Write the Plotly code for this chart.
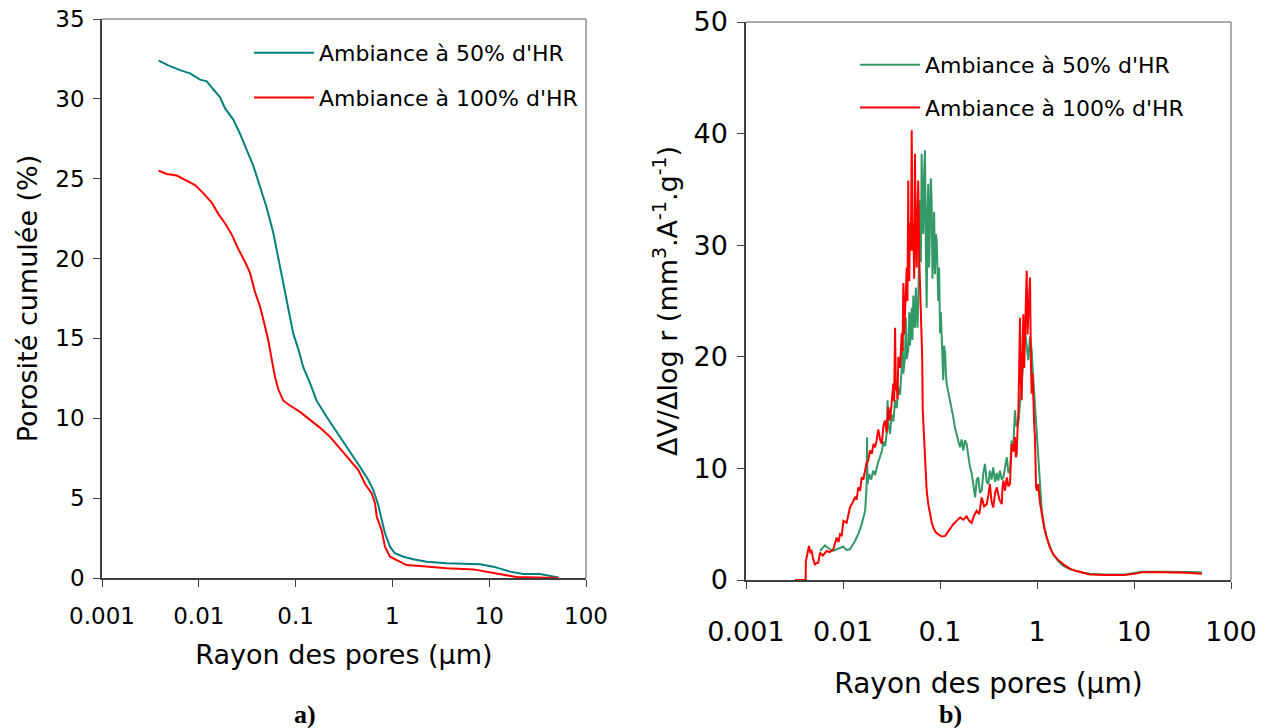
import plotly.graph_objects as go

# ---- a) cumulative porosity vs pore radius ----
r_cum_50 = [0.00385, 0.00484, 0.0064, 0.00813, 0.0103, 0.0121, 0.0141, 0.0166, 0.0187, 0.0227,
            0.0267, 0.0313, 0.0366, 0.0429, 0.0502, 0.0589, 0.069, 0.0776, 0.0875, 0.0946,
            0.107, 0.12, 0.141, 0.165, 0.209, 0.288, 0.365, 0.462, 0.564, 0.635,
            0.714, 0.774, 0.838, 0.944, 1.06, 1.30, 1.64, 2.26, 3.64, 8.04,
            11.0, 16.4, 22.5, 33.5, 51.8]
p_cum_50 = [32.4, 32.1, 31.8, 31.6, 31.2, 31.1, 30.6, 30.1, 29.4, 28.7,
            27.8, 26.8, 25.8, 24.5, 23.2, 21.6, 19.5, 17.8, 16.2, 15.3,
            14.3, 13.2, 12.2, 11.1, 10.1, 8.85, 7.9, 6.97, 6.14, 5.5,
            4.57, 3.63, 2.8, 1.96, 1.55, 1.33, 1.17, 1.02, 0.92, 0.86,
            0.71, 0.4, 0.25, 0.25, 0.04]

r_cum_100 = [0.00385, 0.00468, 0.00592, 0.0075, 0.00914, 0.0111, 0.0136, 0.0159, 0.0187, 0.0219,
             0.0256, 0.03, 0.0338, 0.0381, 0.0429, 0.0463, 0.0522, 0.0566, 0.0612, 0.0664,
             0.0746, 0.0875, 0.111, 0.141, 0.179, 0.226, 0.288, 0.365, 0.445, 0.521,
             0.611, 0.661, 0.689, 0.774, 0.838, 0.944, 1.20, 1.40, 1.93, 3.64,
             6.85, 9.42, 12.9, 19.2, 51.8]
p_cum_100 = [25.5, 25.3, 25.2, 24.9, 24.6, 24.1, 23.5, 22.8, 22.2, 21.5,
             20.6, 19.8, 19.1, 17.9, 17.0, 16.2, 14.9, 13.7, 12.6, 11.8,
             11.1, 10.8, 10.4, 9.9, 9.4, 8.85, 8.1, 7.4, 6.76, 5.9,
             5.3, 4.68, 3.84, 3.0, 1.96, 1.33, 1.02, 0.81, 0.75, 0.61,
             0.54, 0.4, 0.25, 0.06, 0.0]

# ---- b) pore size distribution dV/dlog r ----
r_dist_50 = [
    0.00579, 0.00651, 0.0072, 0.00789, 0.0089, 0.01, 0.0109, 0.0118, 0.0133, 0.0145,
    0.0156, 0.0169, 0.0175, 0.0177, 0.0179, 0.0186, 0.0195, 0.0205, 0.0214, 0.0222,
    0.0231, 0.024, 0.0252, 0.0262, 0.0272, 0.0282, 0.0288, 0.0293, 0.0305, 0.0318,
    0.0331, 0.0344, 0.0358, 0.0372, 0.0387, 0.0403, 0.0411, 0.0419, 0.0436, 0.0445,
    0.0454, 0.0471, 0.0482, 0.0491, 0.0502, 0.0511, 0.052, 0.0531, 0.0542, 0.0552,
    0.0563, 0.0575, 0.0586, 0.0597, 0.061, 0.0622, 0.0635, 0.0647, 0.066, 0.0673,
    0.0686, 0.07, 0.0714, 0.0729, 0.0743, 0.0757, 0.0772, 0.0789, 0.0805, 0.082,
    0.0836, 0.0853, 0.087, 0.0887, 0.0906, 0.0925, 0.0942, 0.0959, 0.098, 0.1,
    0.102, 0.104, 0.106, 0.108, 0.11, 0.113, 0.115, 0.117, 0.122, 0.127,
    0.132, 0.137, 0.143, 0.149, 0.155, 0.161, 0.167, 0.174, 0.181, 0.188,
    0.196, 0.204, 0.212, 0.221, 0.23, 0.239, 0.248, 0.258, 0.269, 0.28,
    0.291, 0.303, 0.315, 0.327, 0.34, 0.354, 0.37, 0.385, 0.399, 0.415,
    0.433, 0.45, 0.468, 0.488, 0.507, 0.527, 0.548, 0.57, 0.593, 0.61,
    0.641, 0.668, 0.695, 0.723, 0.752, 0.783, 0.813, 0.847, 0.881, 0.916,
    0.953, 0.99, 1.03, 1.07, 1.12, 1.19, 1.26, 1.36, 1.47, 1.65,
    1.87, 2.2, 2.56, 3.0, 3.52, 5.0, 8.0, 10.0, 12.0, 20.0,
    35.0, 50.0]
v_dist_50 = [
    2.6, 3.1, 2.8, 2.6, 2.8, 3.0, 2.7, 2.75, 3.5, 4.2,
    5.0, 6.2, 8.3, 12.8, 8.6, 9.5, 9.0, 9.8, 9.4, 10.1,
    10.6, 11.0, 11.6, 12.4, 12.0, 13.1, 16.1, 14.0, 13.1, 14.8,
    14.2, 16.1, 15.4, 17.3, 16.6, 19.0, 22.1, 18.5, 20.0, 23.5,
    19.8, 20.6, 24.0, 21.0, 22.8, 24.4, 21.5, 25.5, 23.0, 22.6,
    26.2, 24.0, 22.6, 25.0, 30.0, 34.0, 28.5, 38.2, 32.0, 31.0,
    36.5, 38.5, 30.0, 24.4, 33.0, 35.5, 28.0, 31.0, 36.0, 34.0,
    27.0, 29.5, 33.0, 27.4, 31.0, 30.4, 26.0, 25.0, 28.0, 22.1,
    24.0, 21.4, 19.5, 17.9, 21.0, 20.3, 18.5, 17.6, 16.8, 16.1,
    15.2, 14.6, 13.6, 13.1, 12.4, 11.9, 12.6, 11.6, 12.5, 12.2,
    11.0, 10.1, 9.6, 8.6, 7.4, 9.0, 9.2, 7.8, 8.0, 9.6,
    10.4, 8.8, 8.6, 9.8, 9.0, 10.1, 8.8, 9.6, 8.9, 9.8,
    9.0, 9.2, 10.2, 11.0, 9.6, 9.8, 12.5, 12.0, 15.2, 13.8,
    14.0, 15.8, 17.0, 19.5, 22.4, 21.0, 19.7, 21.8, 20.6, 18.0,
    15.5, 13.0, 11.0, 8.2, 6.2, 4.8, 3.8, 3.0, 2.3, 1.7,
    1.26, 0.95, 0.8, 0.65, 0.57, 0.5, 0.5, 0.6, 0.75, 0.75,
    0.75, 0.7]

r_dist_100 = [
    0.0032, 0.00412, 0.00414, 0.00423, 0.00446, 0.0046, 0.00475, 0.00495, 0.00514, 0.00535,
    0.00556, 0.00579, 0.0062, 0.00679, 0.0073, 0.00794, 0.00861, 0.009, 0.00931, 0.0097,
    0.0101, 0.0109, 0.0114, 0.0118, 0.0125, 0.0133, 0.0138, 0.0144, 0.015, 0.0156,
    0.0162, 0.0169, 0.0175, 0.0182, 0.019, 0.0198, 0.0206, 0.0214, 0.0222, 0.0231,
    0.0241, 0.0251, 0.0261, 0.0271, 0.0282, 0.0293, 0.0305, 0.0317, 0.033, 0.0337,
    0.0344, 0.0351, 0.0358, 0.0365, 0.0372, 0.0387, 0.0403, 0.0411, 0.0419, 0.0427,
    0.0436, 0.0445, 0.0454, 0.0462, 0.0471, 0.0476, 0.0482, 0.049, 0.0499, 0.0505,
    0.0511, 0.0521, 0.0531, 0.0542, 0.0552, 0.0563, 0.0575, 0.0586, 0.0597, 0.061,
    0.0622, 0.0635, 0.0647, 0.0655, 0.0664, 0.0673, 0.07, 0.0729, 0.0757, 0.0789,
    0.082, 0.0853, 0.09, 0.0959, 0.104, 0.113, 0.122, 0.13, 0.137, 0.148,
    0.161, 0.174, 0.188, 0.2, 0.212, 0.225, 0.239, 0.254, 0.269, 0.285,
    0.303, 0.315, 0.327, 0.34, 0.354, 0.37, 0.385, 0.41, 0.433, 0.442,
    0.45, 0.468, 0.488, 0.507, 0.527, 0.537, 0.548, 0.57, 0.593, 0.605,
    0.618, 0.63, 0.641, 0.655, 0.668, 0.68, 0.695, 0.71, 0.723, 0.738,
    0.752, 0.767, 0.783, 0.798, 0.813, 0.83, 0.847, 0.864, 0.881, 0.9,
    0.916, 0.935, 0.953, 0.965, 0.977, 1.0, 1.03, 1.07, 1.12, 1.19,
    1.26, 1.36, 1.47, 1.65, 1.87, 2.2, 2.56, 3.0, 3.52, 5.0,
    8.0, 10.0, 12.0, 20.0, 35.0, 50.0]
v_dist_100 = [
    0.0, 0.0, 1.7, 2.2, 3.05, 2.5, 2.6, 1.8, 1.4, 1.5,
    1.55, 2.45, 2.2, 2.6, 2.5, 2.75, 3.8, 3.4, 4.1, 4.0,
    5.3, 5.14, 5.8, 6.5, 6.9, 7.4, 7.2, 8.3, 8.0, 9.2,
    9.0, 9.9, 10.5, 10.7, 11.6, 11.3, 12.2, 11.9, 12.5, 13.5,
    12.6, 12.2, 13.8, 14.3, 13.2, 15.5, 14.3, 15.8, 17.6, 16.0,
    22.6, 17.0, 17.6, 16.2, 20.0, 19.0, 22.1, 20.5, 26.6, 22.0,
    23.9, 26.0, 28.0, 25.0, 35.8, 27.0, 26.8, 32.0, 29.5, 33.5,
    40.3, 29.5, 32.0, 27.0, 38.2, 31.0, 28.0, 33.0, 35.8, 29.0,
    26.2, 24.0, 22.6, 20.0, 15.2, 14.0, 10.7, 8.0, 6.8, 5.9,
    5.2, 4.7, 4.3, 4.1, 3.9, 3.95, 4.4, 4.7, 5.0, 5.3,
    5.6, 5.4, 5.7, 5.3, 5.1, 5.8, 6.2, 5.9, 7.4, 6.6,
    6.8, 7.6, 8.6, 7.0, 6.5, 7.8, 8.3, 7.2, 6.8, 8.4,
    8.9, 8.0, 9.2, 8.4, 8.6, 10.5, 12.2, 11.5, 12.8, 11.0,
    11.3, 13.5, 14.6, 19.0, 23.5, 18.0, 16.1, 20.5, 23.8, 19.0,
    21.5, 25.0, 27.7, 22.0, 24.1, 26.0, 27.1, 20.0, 16.7, 18.5,
    15.5, 14.0, 12.8, 10.0, 8.3, 8.0, 8.6, 7.0, 5.9, 4.6,
    3.8, 2.9, 2.3, 1.8, 1.4, 1.0, 0.8, 0.62, 0.5, 0.45,
    0.45, 0.55, 0.7, 0.7, 0.65, 0.55]

x_ticks = [0.001, 0.01, 0.1, 1, 10, 100]
x_ticktext = ["0.001", "0.01", "0.1", "1", "10", "100"]
label_50 = "Ambiance à 50% d'HR"
label_100 = "Ambiance à 100% d'HR"

FONT = "DejaVu Sans, Verdana, sans-serif"
AXIS_DARK = "#404040"
FRAME_GRAY = "#8c8c8c"

fig = go.Figure()

fig.add_trace(go.Scatter(x=r_cum_50, y=p_cum_50, mode="lines", name=label_50,
                         line=dict(color="#008080", width=2), xaxis="x", yaxis="y",
                         legend="legend", legendgroup="a50"))
fig.add_trace(go.Scatter(x=r_cum_100, y=p_cum_100, mode="lines", name=label_100,
                         line=dict(color="#ff0000", width=2), xaxis="x", yaxis="y",
                         legend="legend", legendgroup="a100"))
fig.add_trace(go.Scatter(x=r_dist_50, y=v_dist_50, mode="lines", name=label_50,
                         line=dict(color="#339966", width=2), xaxis="x2", yaxis="y2",
                         legend="legend2", legendgroup="b50"))
fig.add_trace(go.Scatter(x=r_dist_100, y=v_dist_100, mode="lines", name=label_100,
                         line=dict(color="#ff0000", width=2), xaxis="x2", yaxis="y2",
                         legend="legend2", legendgroup="b100"))

W, H = 1272, 728
# plot areas in pixels: (left, right, top, bottom)
A = (102, 586, 19, 578)
B = (746, 1231, 22, 580)


def dom_x(p):
    return [p[0] / W, p[1] / W]


def dom_y(p):
    return [1 - p[3] / H, 1 - p[2] / H]


common_x = dict(type="log", tickvals=x_ticks, ticktext=x_ticktext, showgrid=False,
                zeroline=False, showline=True, linecolor=AXIS_DARK, linewidth=1.5,
                ticks="outside", ticklen=7, tickcolor=AXIS_DARK, range=[-3, 2],
                automargin=False)
common_y = dict(showgrid=False, zeroline=False, showline=True, linecolor=AXIS_DARK,
                linewidth=1.5, ticks="outside", ticklen=7, tickcolor=AXIS_DARK,
                automargin=False)

fig.update_layout(
    width=W, height=H, margin=dict(l=0, r=0, t=0, b=0, autoexpand=False),
    paper_bgcolor="white", plot_bgcolor="white",
    font=dict(family=FONT, color="black"),
    xaxis=dict(common_x, domain=dom_x(A), anchor="y",
               tickfont=dict(size=23), ticklabelstandoff=10,
               title=dict(text="Rayon des pores (μm)", font=dict(size=27), standoff=17)),
    yaxis=dict(common_y, domain=dom_y(A), anchor="x", range=[0, 35], dtick=5,
               tickfont=dict(size=23), ticklabelstandoff=4,
               title=dict(text="Porosité cumulée (%)", font=dict(size=27), standoff=10)),
    xaxis2=dict(common_x, domain=dom_x(B), anchor="y2",
                tickfont=dict(size=27), ticklabelstandoff=20,
                title=dict(text="Rayon des pores (µm)", font=dict(size=28), standoff=27)),
    yaxis2=dict(common_y, domain=dom_y(B), anchor="x2", range=[0, 50], dtick=10,
                tickfont=dict(size=27), ticklabelstandoff=4,
                title=dict(text="ΔV/Δlog r (mm<sup>3</sup>.A<sup>-1</sup>.g<sup>-1</sup>)",
                           font=dict(size=27), standoff=8)),
    legend=dict(x=249 / W, y=1 - 32 / H, xanchor="left", yanchor="top",
                bgcolor="rgba(0,0,0,0)", font=dict(size=22), tracegroupgap=13,
                itemwidth=60, traceorder="grouped"),
    legend2=dict(x=855 / W, y=1 - 44 / H, xanchor="left", yanchor="top",
                 bgcolor="rgba(0,0,0,0)", font=dict(size=22), tracegroupgap=11,
                 itemwidth=60, traceorder="grouped"),
    showlegend=True,
)

# light frame on the top and right sides of both panels
for xa, ya in (("x", "y"), ("x2", "y2")):
    fig.add_shape(type="line", xref=f"{xa} domain", yref=f"{ya} domain",
                  x0=0, x1=1, y0=1, y1=1, line=dict(color=FRAME_GRAY, width=1.5))
    fig.add_shape(type="line", xref=f"{xa} domain", yref=f"{ya} domain",
                  x0=1, x1=1, y0=0, y1=1, line=dict(color=FRAME_GRAY, width=1.5))

# panel letters
for letter, xc in (("a)", 305), ("b)", 950)):
    fig.add_annotation(text=f"<b>{letter}</b>", x=xc / W, y=1 - 714 / H,
                       xref="paper", yref="paper", xanchor="center", yanchor="middle",
                       showarrow=False,
                       font=dict(family="Liberation Serif, Times New Roman, serif",
                                 size=26, color="black"))

fig.write_html("out.html")
